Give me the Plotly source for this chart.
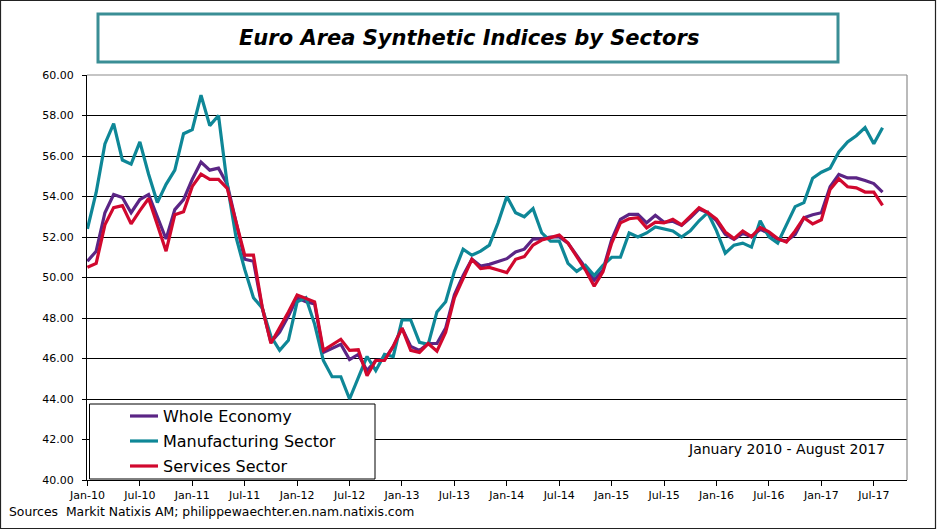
import plotly.graph_objects as go

# ---- data (monthly, Jan-2010 .. Aug-2017) ----
months = [f"{m}-{y}" for y in range(2010, 2018) for m in
          ["Jan", "Feb", "Mar", "Apr", "May", "Jun", "Jul", "Aug", "Sep", "Oct", "Nov", "Dec"]][:92]

whole_economy = [
    50.8, 51.3, 53.2, 54.1, 53.95, 53.2, 53.85, 54.1, 53.0, 51.9, 53.35, 53.85,
    54.85, 55.7, 55.3, 55.4, 54.6, 52.7, 50.9, 50.8, 48.5, 46.8, 47.3, 48.1,
    49.0, 48.8, 48.7, 46.3, 46.5, 46.7, 45.95, 46.2, 45.4, 45.9, 45.95, 46.6,
    47.5, 46.6, 46.4, 46.74, 46.74, 47.5, 49.15, 50.1, 50.9, 50.57, 50.65, 50.77,
    50.93, 51.26, 51.4, 51.9, 51.92, 52.0, 52.0, 51.7, 51.1, 50.5, 49.87, 50.37,
    51.87, 52.87, 53.12, 53.12, 52.7, 53.07, 52.73, 52.78, 52.57, 52.95, 53.38, 53.2,
    52.8, 52.13, 51.88, 52.18, 52.0, 52.38, 52.18, 51.88, 51.8, 52.13, 52.95, 53.1,
    53.2, 54.48, 55.09, 54.92, 54.92, 54.79, 54.64, 54.22,
]

manufacturing = [
    52.4, 54.2, 56.6, 57.6, 55.8, 55.6, 56.7, 55.1, 53.7, 54.6, 55.3, 57.1,
    57.3, 59.0, 57.5, 58.0, 54.6, 52.0, 50.4, 49.0, 48.5, 47.1, 46.4, 46.9,
    48.8, 49.0, 47.7, 45.9, 45.1, 45.1, 44.0, 45.1, 46.1, 45.4, 46.2, 46.1,
    47.9, 47.9, 46.8, 46.7, 48.3, 48.8, 50.3, 51.4, 51.1, 51.3, 51.6, 52.7,
    54.0, 53.2, 53.0, 53.4, 52.2, 51.8, 51.8, 50.7, 50.3, 50.6, 50.1, 50.6,
    51.0, 51.0, 52.2, 52.0, 52.2, 52.5, 52.4, 52.3, 52.0, 52.3, 52.8, 53.2,
    52.3, 51.2, 51.6, 51.7, 51.5, 52.8, 52.0, 51.7, 52.6, 53.5, 53.7, 54.9,
    55.2, 55.4, 56.2, 56.7, 57.0, 57.4, 56.6, 57.4,
]

services = [
    50.5, 50.7, 52.6, 53.45, 53.55, 52.65, 53.3, 53.9, 52.6, 51.3, 53.1, 53.25,
    54.5, 55.1, 54.85, 54.85, 54.4, 52.7, 51.1, 51.1, 48.55, 46.75, 47.5, 48.3,
    49.13, 48.95, 48.8, 46.4, 46.66, 46.95, 46.4, 46.43, 45.15, 45.9, 45.9, 46.6,
    47.5, 46.4, 46.3, 46.74, 46.36, 47.3, 49.0, 49.95, 50.9, 50.44, 50.5, 50.37,
    50.24, 50.9, 51.03, 51.6, 51.85, 51.97, 52.1, 51.7, 51.03, 50.37, 49.57, 50.28,
    51.7, 52.7, 52.9, 52.95, 52.45, 52.73, 52.7, 52.87, 52.6, 53.05, 53.45, 53.2,
    52.88, 52.25, 51.92, 52.3, 52.02, 52.47, 52.25, 51.92, 51.75, 52.3, 52.95, 52.65,
    52.85, 54.35, 54.87, 54.48, 54.43, 54.22, 54.22, 53.56,
]

series_names = ["Whole Economy", "Manufacturing Sector", "Services Sector"]
series_colors = ["#5B2585", "#0E8797", "#D1082E"]
tick_idx = list(range(0, 92, 6))
tick_labels = [months[i][:4] + months[i][-2:] for i in tick_idx]
y_ticks = [40 + 2 * k for k in range(11)]

FONT = "DejaVu Sans"
W, H = 937, 531
L, R, T, B = 87, 907, 75, 480


def px(x):
    return (x - L) / (R - L)


def py(y):
    return (B - y) / (B - T)


x_idx = list(range(len(months)))
fig = go.Figure()
for name, vals, col in zip(series_names, [whole_economy, manufacturing, services], series_colors):
    fig.add_trace(go.Scatter(x=x_idx, y=vals, mode="lines", name=name,
                             line=dict(color=col, width=3.2), showlegend=False,
                             hovertext=months, hoverinfo="text+y+name"))

shapes = []
# outer border
shapes.append(dict(type="rect", xref="paper", yref="paper", x0=px(0.5), x1=px(935.5),
                   y0=py(0.5), y1=py(528.5), line=dict(color="#222222", width=1.2)))
# title box
shapes.append(dict(type="rect", xref="paper", yref="paper", x0=px(98), x1=px(838),
                   y0=py(14), y1=py(62), line=dict(color="#3A8E95", width=3),
                   fillcolor="white"))
# plot area top / right border (gray)
shapes.append(dict(type="line", xref="paper", yref="paper", x0=0, x1=1, y0=1, y1=1,
                   line=dict(color="#8C8C8C", width=1.2), layer="above"))
shapes.append(dict(type="line", xref="paper", yref="paper", x0=1, x1=1, y0=0, y1=1,
                   line=dict(color="#8C8C8C", width=1.2), layer="above"))
# legend box
shapes.append(dict(type="rect", xref="paper", yref="paper", x0=px(89.5), x1=px(375),
                   y0=py(404), y1=py(479), line=dict(color="black", width=1),
                   fillcolor="white", layer="above"))

annotations = [
    dict(text="<b><i>Euro Area Synthetic Indices by Sectors</i></b>", xref="paper", yref="paper",
         x=px(469), y=py(38), showarrow=False, xanchor="center", yanchor="middle",
         font=dict(family=FONT, size=21, color="black")),
    dict(text="January 2010 - August 2017", xref="paper", yref="paper",
         x=px(887), y=py(449), showarrow=False, xanchor="right", yanchor="middle",
         font=dict(family=FONT, size=14, color="black")),
    dict(text="Sources  Markit Natixis AM; philippewaechter.en.nam.natixis.com", xref="paper",
         yref="paper", x=px(7), y=py(511), showarrow=False, xanchor="left", yanchor="middle",
         font=dict(family=FONT, size=12.4, color="black")),
]

leg_y = [416, 441, 466]
for name, col, yy in zip(series_names, series_colors, leg_y):
    shapes.append(dict(type="line", xref="paper", yref="paper", x0=px(130), x1=px(158),
                       y0=py(yy), y1=py(yy), line=dict(color=col, width=3.2), layer="above"))
    annotations.append(dict(text=name, xref="paper", yref="paper", x=px(161), y=py(yy),
                            showarrow=False, xanchor="left", yanchor="middle",
                            font=dict(family=FONT, size=16, color="black")))

fig.update_layout(
    width=W, height=H,
    margin=dict(l=L, r=W - R, t=T, b=H - B, pad=0),
    paper_bgcolor="white", plot_bgcolor="white",
    font=dict(family=FONT, size=11, color="black"),
    shapes=shapes, annotations=annotations,
    xaxis=dict(range=[-0.05, 93.8], tickmode="array", tickvals=tick_idx, ticktext=tick_labels,
               showgrid=False, zeroline=False, showline=True, linecolor="black", linewidth=1,
               ticks="outside", ticklen=5, tickcolor="black",
               tickfont=dict(family=FONT, size=11, color="black")),
    yaxis=dict(range=[40, 60], tickmode="array", tickvals=y_ticks,
               ticktext=[f"{v:.2f}" for v in y_ticks],
               showgrid=True, gridcolor="black", gridwidth=1, zeroline=False,
               showline=True, linecolor="black", linewidth=1,
               ticks="outside", ticklen=4, tickcolor="black", ticklabelstandoff=6,
               tickfont=dict(family=FONT, size=11, color="black")),
    hovermode="closest",
)

fig.write_html("out.html", config={"displayModeBar": False},
               post_script="document.body.style.margin='0';document.body.style.overflow='hidden';")
